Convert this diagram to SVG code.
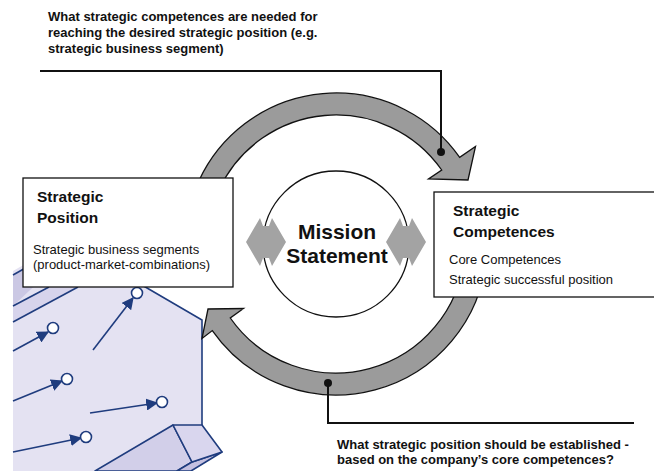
<svg xmlns="http://www.w3.org/2000/svg" width="654" height="471" viewBox="0 0 654 471">
  <defs>
    <style>
      text { font-family: "Liberation Sans", Arial, sans-serif; fill: #111; }
      .q { font-size: 13px; font-weight: bold; }
      .head { font-size: 15.5px; font-weight: bold; }
      .body { font-size: 13px; }
      .mission { font-size: 21px; font-weight: bold; text-anchor: middle; }
      .box { fill: #fff; stroke: #111; stroke-width: 1.3; }
      .band { fill: #9b9b9b; stroke: #111; stroke-width: 1.3; stroke-linejoin: miter; }
      .dbl { fill: #a3a3a3; }
      .lead { fill: none; stroke: #111; stroke-width: 2; }
      .navy { fill: none; stroke: #1f3c7e; stroke-width: 1.6; }
      .mv { stroke: #1f3c7e; stroke-width: 1.6; marker-end: url(#tri); }
      .pt { fill: #fff; stroke: #1f3c7e; stroke-width: 1.6; }
    </style>
    <marker id="tri" viewBox="0 0 10 10" refX="9" refY="5" markerWidth="7.5" markerHeight="7.5" orient="auto" markerUnits="strokeWidth">
      <path d="M0,0 L10,5 L0,10 z" fill="#1f3c7e"/>
    </marker>
    <path id="dblArrow" d="M-20,0 L-6,-24 L-3,-16 L3,-16 L6,-24 L20,0 L6,24 L3,16 L-3,16 L-6,24 z"/>
  </defs>

  <!-- isometric market slab with positioning moves -->
  <g id="market-slab">
    <path d="M13,471 L13,271 L32,260 L99,260 L202,320 L202,425 L173,425 L95,471 z" fill="#e4e2f2"/>
    <!-- upper-left rail -->
    <path d="M13,275 L36,262 L60,262 L13,306 z" fill="#cbc8e4"/>
    <path d="M13,306 L49,287 L78,287 L13,322 z" fill="#d7d4ec"/>
    <path class="navy" d="M13,275 L36,262"/>
    <path class="navy" d="M13,306 L49,287"/>
    <path class="navy" d="M13,322 L78,287"/>
    <!-- slab outline -->
    <path class="navy" d="M99,260 L202,320 L202,425"/>
    <!-- lower-right rail -->
    <path d="M173,425 L192,462 L177,471 L95,471 z" fill="#d2cfe9" stroke="#1f3c7e" stroke-width="1.6" stroke-linejoin="round"/>
    <path d="M192,462 L222,452 L191,471 L177,471 z" fill="#c4c0e0" stroke="#1f3c7e" stroke-width="1.6" stroke-linejoin="round"/>
    <path d="M173,425 L202,425 L222,452 L192,462 z" fill="#d9d6ee" stroke="#1f3c7e" stroke-width="1.6" stroke-linejoin="round"/>
    <!-- moves towards strategic positions -->
    <line class="mv" x1="13" y1="351" x2="48" y2="332"/>
    <circle class="pt" cx="53" cy="328" r="5.5"/>
    <line class="mv" x1="93" y1="350" x2="133" y2="298"/>
    <circle class="pt" cx="137" cy="293" r="5.5"/>
    <line class="mv" x1="13" y1="401" x2="62" y2="381"/>
    <circle class="pt" cx="67" cy="379" r="5.5"/>
    <line class="mv" x1="90" y1="413" x2="157" y2="403"/>
    <circle class="pt" cx="162" cy="402" r="5.5"/>
    <line class="mv" x1="13" y1="452" x2="81" y2="438"/>
    <circle class="pt" cx="86" cy="437" r="5.5"/>
  </g>

  <!-- cycle arrows and leader lines -->
  <g id="connectors">
    <path class="band" d="M199.15,180.19 A151,151 0 0 1 459.69,157.39 L475.5,146.5 L468,180 L428.5,179 L441.7,170 A129,129 0 0 0 219.1,189.5 z"/>
    <path class="band" d="M486.4,257.2 A151,151 0 0 1 212.3,330.6 L202,338.5 L208,309 L243.5,308.5 L230.3,318 A129,129 0 0 0 464.5,255.2 z"/>
    <path class="lead" d="M40,71 H441 V152"/>
    <circle cx="441" cy="152" r="4" fill="#111"/>
    <path class="lead" d="M328,383 V423 H634"/>
    <circle cx="328" cy="383" r="4" fill="#111"/>
  </g>

  <g id="mission-statement">
    <circle cx="336" cy="244" r="73" fill="#fff" stroke="#111" stroke-width="1.3"/>
    <text class="mission" x="337" y="239">Mission</text>
    <text class="mission" x="337" y="263">Statement</text>
  </g>

  <!-- two-way exchange arrows on the circle rim -->
  <g id="exchange-arrows">
    <use href="#dblArrow" class="dbl" x="266" y="242"/>
    <use href="#dblArrow" class="dbl" x="406" y="242"/>
  </g>

  <g id="strategic-position">
    <rect class="box" x="23" y="178" width="210" height="109"/>
    <text class="head" x="37" y="202">Strategic</text>
    <text class="head" x="37" y="223">Position</text>
    <text class="body" x="33" y="254">Strategic business segments</text>
    <text class="body" x="33" y="269">(product-market-combinations)</text>
  </g>

  <g id="strategic-competences">
    <rect class="box" x="434" y="192" width="230" height="105"/>
    <text class="head" x="453" y="216">Strategic</text>
    <text class="head" x="453" y="237">Competences</text>
    <text class="body" x="449" y="264">Core Competences</text>
    <text class="body" x="449" y="284">Strategic successful position</text>
  </g>

  <g id="question-competences">
    <text class="q" x="48" y="21">What strategic competences are needed for</text>
    <text class="q" x="48" y="37">reaching the desired strategic position (e.g.</text>
    <text class="q" x="48" y="53">strategic business segment)</text>
  </g>

  <g id="question-position">
    <text class="q" x="337" y="449">What strategic position should be established -</text>
    <text class="q" x="337" y="464">based on the company’s core competences?</text>
  </g>
</svg>
